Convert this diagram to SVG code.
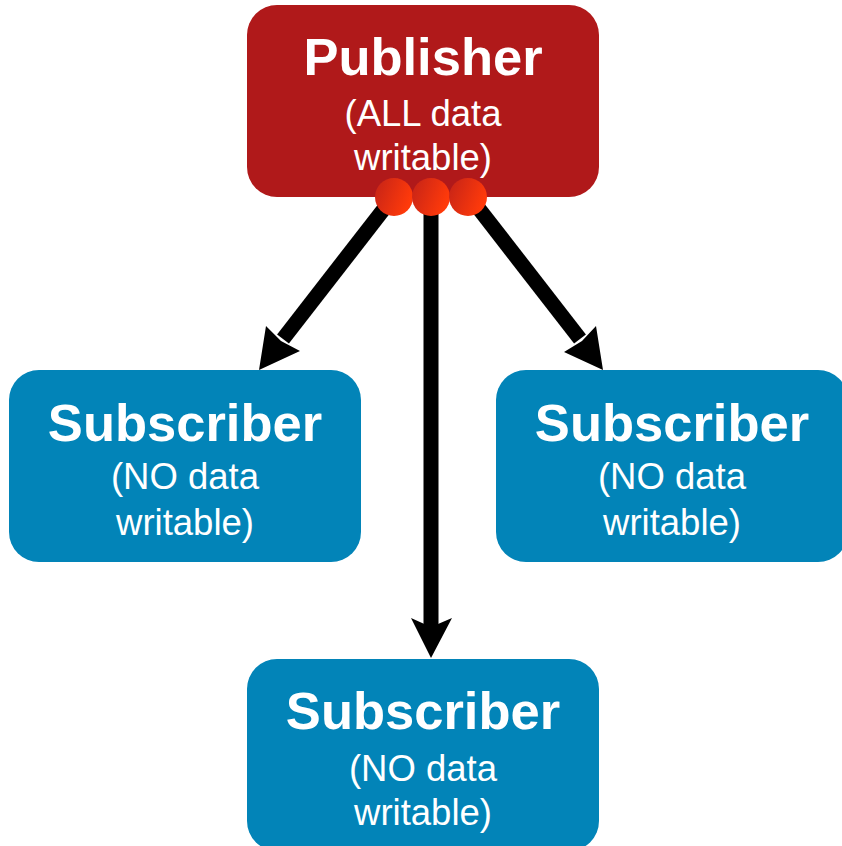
<svg xmlns="http://www.w3.org/2000/svg" width="842" height="846" viewBox="0 0 842 846">
<style>
.pub{fill:#B0191A}
.sub{fill:#0284B8}
.t1{font-family:"Liberation Sans",Arial,sans-serif;font-weight:bold;font-size:52.5px;fill:#fff;text-anchor:middle}
.t2{font-family:"Liberation Sans",Arial,sans-serif;font-size:36.5px;fill:#fff;text-anchor:middle}
.ln{stroke:#000;stroke-width:15;fill:none}
</style>
<defs>
<linearGradient id="g" x1="0" y1="0" x2="1" y2="0.4">
<stop offset="0" stop-color="#c42318"/>
<stop offset="1" stop-color="#ff3a0a"/>
</linearGradient>
</defs>
<g id="publisher">
<rect class="pub" x="247" y="5" width="352" height="192" rx="30"/>
<text class="t1" x="423" y="75">Publisher</text>
<text class="t2" x="423" y="126">(ALL data</text>
<text class="t2" x="423" y="170">writable)</text>
</g>
<g id="sub-left">
<rect class="sub" x="9" y="370" width="352" height="192" rx="30"/>
<text class="t1" x="185" y="441">Subscriber</text>
<text class="t2" x="185" y="489">(NO data</text>
<text class="t2" x="185" y="535">writable)</text>
</g>
<g id="sub-right">
<rect class="sub" x="496" y="370" width="352" height="192" rx="30"/>
<text class="t1" x="672" y="441">Subscriber</text>
<text class="t2" x="672" y="489">(NO data</text>
<text class="t2" x="672" y="535">writable)</text>
</g>
<g id="sub-bottom">
<rect class="sub" x="247" y="659" width="352" height="192" rx="30"/>
<text class="t1" x="423" y="729">Subscriber</text>
<text class="t2" x="423" y="781">(NO data</text>
<text class="t2" x="423" y="825">writable)</text>
</g>
<g id="connectors">
<line class="ln" x1="387" y1="205" x2="283" y2="339"/>
<polygon points="259,370 266,326 281,341 300,351"/>
<line class="ln" x1="431" y1="205" x2="431" y2="630"/>
<polygon points="431,658 411,618 431,627 452,618"/>
<line class="ln" x1="476" y1="205" x2="580" y2="339"/>
<polygon points="603,370 564,352 582,341 596,326"/>
</g>
<g id="ports">
<circle cx="394" cy="197" r="19" fill="url(#g)"/>
<circle cx="431" cy="197" r="19" fill="url(#g)"/>
<circle cx="468" cy="197" r="19" fill="url(#g)"/>
</g>
</svg>
